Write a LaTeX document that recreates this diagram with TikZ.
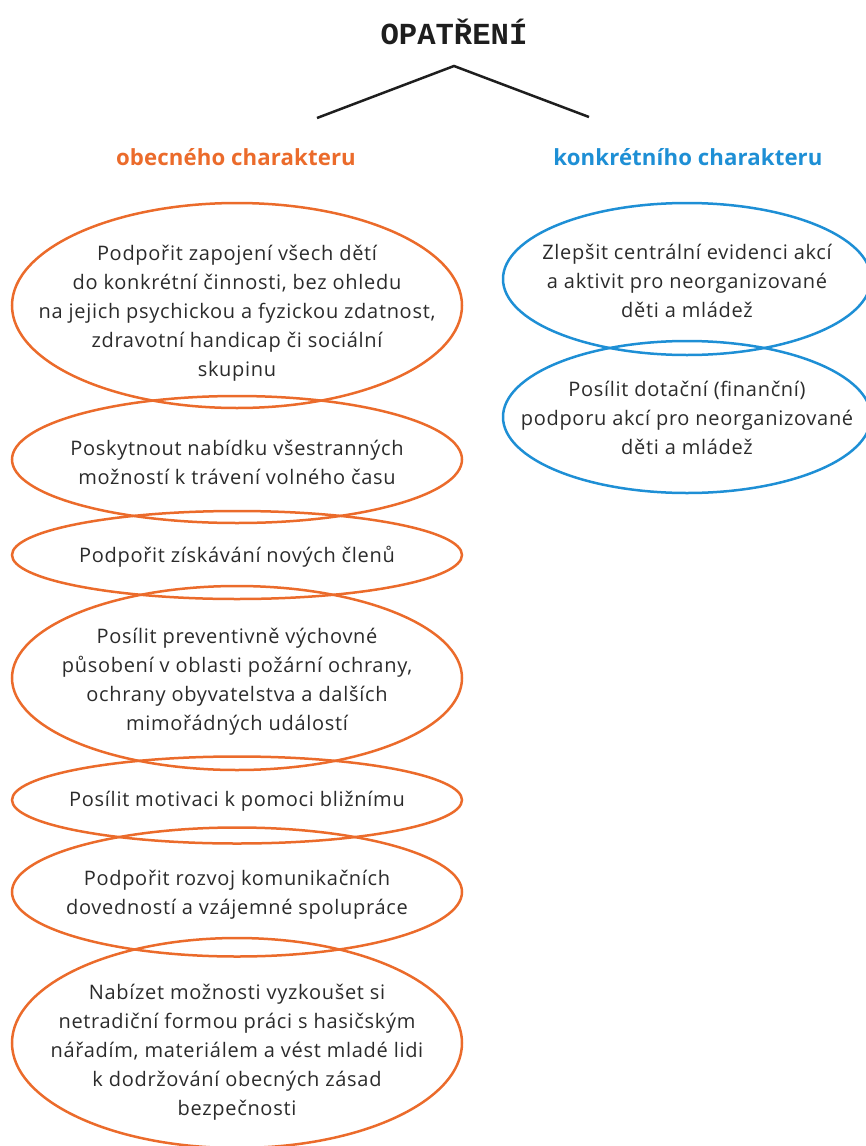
\documentclass[tikz,border=0pt]{standalone}
\usepackage{fontspec}
\setmainfont{Open Sans}[LetterSpace=3.5]
\newfontfamily\headfont{Open Sans}[LetterSpace=0.5]
\newfontfamily\titlefont{Liberation Mono}
\usetikzlibrary{shapes.geometric}
\definecolor{orng}{HTML}{EB6B2B}
\definecolor{blu}{HTML}{1E8FD5}
\definecolor{txtc}{HTML}{2B2B2B}
\definecolor{linec}{HTML}{1E1E1E}
\tikzset{
  oval/.style={ellipse, draw=#1, line width=2.5pt, inner sep=0pt, outer sep=0pt},
  body/.style={text=txtc, align=center, font=\fontsize{20}{29}\selectfont, inner sep=0pt},
  head/.style={font=\headfont\fontsize{22.2}{26}\selectfont\bfseries, inner sep=0pt},
}
\begin{document}
\begin{tikzpicture}[x=1pt,y=-1pt]
\useasboundingbox (0,0) rectangle (866,1146);
\node[font=\titlefont\fontsize{30.6}{34}\selectfont\bfseries, text=linec, inner sep=0pt] (title) at (454,32) {OPATŘENÍ};
\coordinate (apex) at (454,66);
\coordinate (lft) at (317,118);
\coordinate (rgt) at (589,117);
\draw[linec, line width=2.5pt] (lft) -- (apex) -- (rgt);
\node[head, text=orng] (hl) at (236,157) {obecného charakteru};
\node[head, text=blu] (hr) at (688,157) {konkrétního charakteru};

\node[oval=orng, minimum width=450, minimum height=205] (e1) at (237,305.5) {};
\node[oval=orng, minimum width=450, minimum height=127] (e2) at (237,459.5) {};
\node[oval=orng, minimum width=450, minimum height=88] (e3) at (237,555) {};
\node[oval=orng, minimum width=450, minimum height=184] (e4) at (237,678) {};
\node[oval=orng, minimum width=450, minimum height=87] (e5) at (237,800) {};
\node[oval=orng, minimum width=450, minimum height=129] (e6) at (237,892) {};
\node[oval=orng, minimum width=450, minimum height=210] (e7) at (237,1043) {};
\node[oval=blu, minimum width=368, minimum height=152] (b1) at (687,279) {};
\node[oval=blu, minimum width=368, minimum height=152] (b2) at (687,417) {};

\node[body] (t1) at (237,313) {Podpořit zapojení všech dětí\\do konkrétní činnosti, bez ohledu\\na jejich psychickou a fyzickou zdatnost,\\zdravotní handicap či sociální\\skupinu};
\node[body] (t2) at (237,462) {Poskytnout nabídku všestranných\\možností k trávení volného času};
\node[body] (t3) at (237,556.5) {Podpořit získávání nových členů};
\node[body] (t4) at (237,682) {Posílit preventivně výchovné\\působení v oblasti požární ochrany,\\ochrany obyvatelstva a dalších\\mimořádných událostí};
\node[body] (t5) at (237,801.5) {Posílit motivaci k pomoci bližnímu};
\node[body] (t6) at (237,895) {Podpořit rozvoj komunikačních\\dovedností a vzájemné spolupráce};
\node[body] (t7) at (237,1052) {Nabízet možnosti vyzkoušet si\\netradiční formou práci s hasičským\\nářadím, materiálem a vést mladé lidi\\k dodržování obecných zásad\\bezpečnosti};
\node[body] (t8) at (687,281) {Zlepšit centrální evidenci akcí\\a aktivit pro neorganizované\\děti a mládež};
\node[body] (t9) at (687,418) {Posílit dotační (finanční)\\podporu akcí pro neorganizované\\děti a mládež};
\end{tikzpicture}
\end{document}
